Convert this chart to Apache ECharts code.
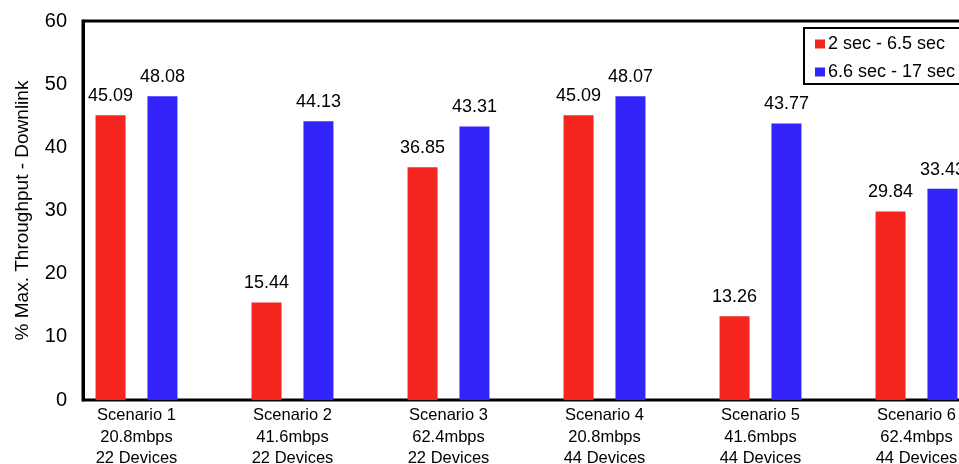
<!DOCTYPE html>
<html>
<head>
<meta charset="utf-8">
<script src="https://cdn.jsdelivr.net/npm/echarts@6/dist/echarts.min.js"></script>
<style>
  html, body { margin: 0; padding: 0; background: #fff; }
  #main { width: 959px; height: 464px; }
</style>
</head>
<body>
<div id="main"></div>
<script>
// data
var categories = [
    'Scenario 1\n20.8mbps\n22 Devices',
    'Scenario 2\n41.6mbps\n22 Devices',
    'Scenario 3\n62.4mbps\n22 Devices',
    'Scenario 4\n20.8mbps\n44 Devices',
    'Scenario 5\n41.6mbps\n44 Devices',
    'Scenario 6\n62.4mbps\n44 Devices'
];
var seriesNames = ['2 sec - 6.5 sec', '6.6 sec - 17 sec'];
var early = [45.09, 15.44, 36.85, 45.09, 13.26, 29.84];
var late = [48.08, 44.13, 43.31, 48.07, 43.77, 33.43];

var font = 'Liberation Sans, Arial, Helvetica, sans-serif';

var myChart = echarts.init(document.getElementById('main'));

var option = {
    animation: false,
    textStyle: { fontFamily: font },
    legend: {
        orient: 'vertical',
        left: 804,
        top: 28,
        data: seriesNames,
        icon: 'rect',
        itemWidth: 10,
        itemHeight: 9,
        itemGap: 10,
        padding: [7, 11, 3, 11],
        borderColor: '#000',
        borderWidth: 2,
        backgroundColor: '#fff',
        textStyle: { fontSize: 18, color: '#000', padding: [0, 0, 0, -2] }
    },
    grid: [
        // bars sit in this one (category bands run past the right edge, chart is cropped)
        { left: 58.5, width: 936, top: 21, bottom: 64, outerBoundsMode: 'none' },
        // frame + y axis
        { left: 83, width: 890, top: 21, bottom: 64, outerBoundsMode: 'none',
          show: true, borderColor: '#000', borderWidth: 3, backgroundColor: 'transparent' }
    ],
    xAxis: [
        {
            type: 'category',
            gridIndex: 0,
            data: categories,
            axisLine: { show: false },
            axisTick: { show: false },
            axisLabel: {
                interval: 0,
                margin: 5,
                fontSize: 16.5,
                lineHeight: 21.5,
                color: '#000'
            }
        },
        {
            type: 'value',
            gridIndex: 1,
            show: false
        }
    ],
    yAxis: [
        {
            type: 'value',
            gridIndex: 0,
            min: 0,
            max: 60,
            interval: 10,
            show: false
        },
        {
            type: 'value',
            gridIndex: 1,
            min: 0,
            max: 60,
            interval: 10,
            name: '% Max. Throughput - Downlink',
            nameLocation: 'middle',
            nameGap: 51,
            nameTextStyle: { fontSize: 19, color: '#000' },
            axisLine: { show: true, lineStyle: { color: '#000', width: 3 } },
            axisTick: { show: false },
            splitLine: { show: false },
            axisLabel: { fontSize: 20, color: '#000', margin: 16 }
        }
    ],
    series: [
        {
            name: seriesNames[0],
            type: 'bar',
            xAxisIndex: 0,
            yAxisIndex: 0,
            data: early,
            barWidth: 30,
            barGap: '73%',
            itemStyle: { color: '#F4251F' },
            label: {
                show: true,
                position: 'top',
                distance: 10,
                fontSize: 18,
                color: '#000',
                formatter: function (p) { return p.value.toFixed(2); }
            }
        },
        {
            name: seriesNames[1],
            type: 'bar',
            xAxisIndex: 0,
            yAxisIndex: 0,
            data: late,
            barWidth: 30,
            itemStyle: { color: '#3324FA' },
            label: {
                show: true,
                position: 'top',
                distance: 10,
                fontSize: 18,
                color: '#000',
                formatter: function (p) { return p.value.toFixed(2); }
            }
        }
    ]
};

myChart.setOption(option);
</script>
</body>
</html>
